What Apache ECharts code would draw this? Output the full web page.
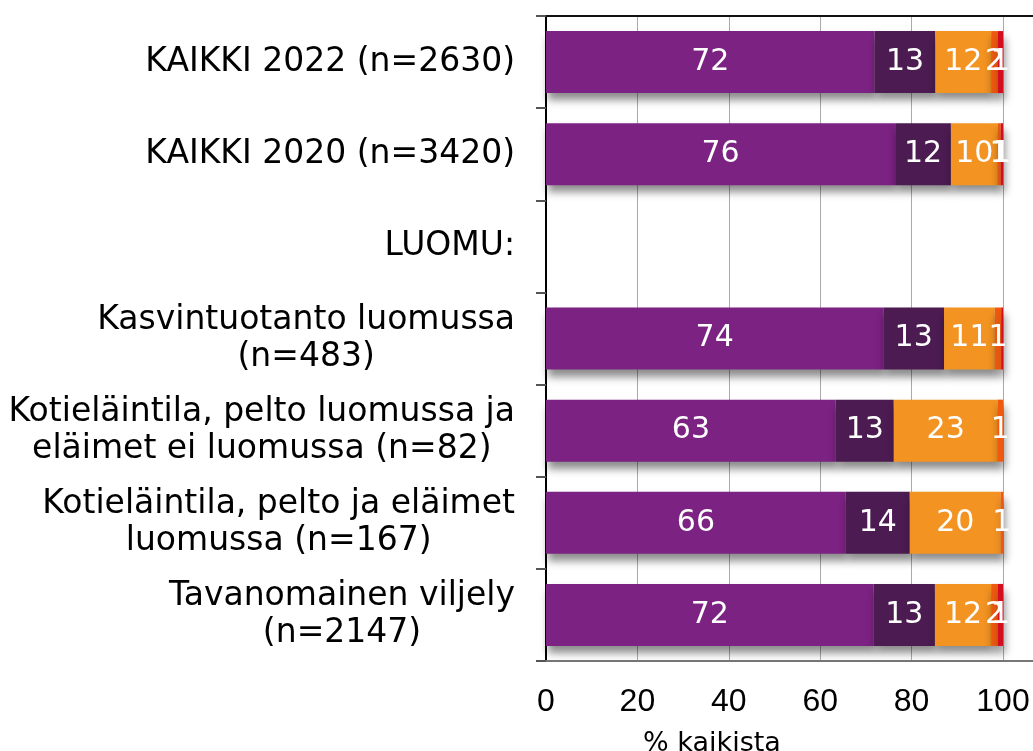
<!DOCTYPE html>
<html>
<head>
<meta charset="utf-8">
<script src="https://cdn.jsdelivr.net/npm/echarts@6/dist/echarts.min.js"></script>
<style>
html,body{margin:0;padding:0;background:#fff;}
#chart{width:1033px;height:751px;}
</style>
</head>
<body>
<div id="chart"></div>
<script>
const categories = [
  'KAIKKI 2022 (n=2630)',
  'KAIKKI 2020 (n=3420)',
  'LUOMU:',
  'Kasvintuotanto luomussa\n(n=483)',
  'Kotieläintila, pelto luomussa ja\neläimet ei luomussa (n=82)',
  'Kotieläintila, pelto ja eläimet\nluomussa (n=167)',
  'Tavanomainen viljely\n(n=2147)'
];
const seriesNames = ['Osuus 1', 'Osuus 2', 'Osuus 3', 'Osuus 4', 'Osuus 5'];
const values1 = [71.9, 76.4, null, 73.8, 63.4, 65.6, 71.7];
const values2 = [13.3, 12.2, null, 13.3, 12.7, 14.0, 13.4];
const values3 = [12.2, 10.2, null, 11.1, 22.7, 19.9, 12.3];
const values4 = [1.5, 0.7, null, 1.4, 1.2, 0.5, 1.5];
const values5 = [1.1, 0.5, null, 0.4, null, null, 1.1];
const xTicks = [0, 20, 40, 60, 80, 100];
const axisTitle = '% kaikista';

const colors = ['#7B2282', '#4B1B52', '#F39322', '#EE5A10', '#D20E1F'];
const allValues = [values1, values2, values3, values4, values5];

const chart = echarts.init(document.getElementById('chart'), null, {renderer: 'canvas'});

const series = allValues.map((vals, i) => ({
  name: seriesNames[i],
  type: 'bar',
  stack: 'total',
  xAxisIndex: 0,
  barWidth: 62,
  data: vals,
  itemStyle: {
    color: colors[i],
    shadowColor: 'rgba(0,0,0,0.45)',
    shadowBlur: 8,
    shadowOffsetY: 7,
    shadowOffsetX: 2
  },
  label: {
    show: true,
    position: 'inside',
    color: '#fff',
    fontFamily: 'DejaVu Sans',
    fontSize: 30,
    formatter: p => {
      if (p.value == null) return '';
      const r = Math.round(p.value);
      return r === 0 ? '' : String(r);
    }
  },
  emphasis: {disabled: true}
}));

const option = {
  animation: false,
  backgroundColor: '#fff',
  title: {
    text: axisTitle,
    left: 707,
    top: 725,
    textAlign: 'center',
    textStyle: {fontFamily: 'DejaVu Sans', fontSize: 27, fontWeight: 'normal', color: '#000'}
  },
  grid: {left: 546, right: 0, top: 16, bottom: 90, containLabel: false},
  xAxis: [{
    type: 'value',
    min: 0,
    max: 106.56,
    interval: 20,
    position: 'bottom',
    axisLine: {show: true, lineStyle: {color: '#777', width: 2}},
    axisTick: {show: false},
    splitLine: {show: true, showMinLine: false, showMaxLine: false, lineStyle: {color: '#aaa', width: 1}},
    axisLabel: {
      showMaxLabel: false,
      margin: 25,
      fontFamily: 'Liberation Sans',
      fontSize: 32,
      color: '#000',
      formatter: v => (xTicks.indexOf(v) >= 0 ? String(v) : '')
    }
  }, {
    type: 'value',
    min: 0,
    max: 106.56,
    interval: 20,
    position: 'top',
    axisLine: {show: true, onZero: false, lineStyle: {color: '#111', width: 2}},
    axisTick: {show: false},
    splitLine: {show: false},
    axisLabel: {show: false}
  }],
  yAxis: {
    type: 'category',
    inverse: true,
    data: categories,
    axisLine: {show: true, lineStyle: {color: '#000', width: 2}},
    axisTick: {show: true, length: 10, lineStyle: {color: '#555', width: 2}},
    axisLabel: {
      margin: 31,
      color: '#000',
      fontFamily: 'DejaVu Sans',
      fontSize: 33,
      lineHeight: 37,
      formatter: v => v.split('\n').map(l => '{c|' + l + '}').join('\n'),
      rich: {
        c: {align: 'center', fontFamily: 'DejaVu Sans', fontSize: 33, lineHeight: 37, color: '#000'}
      }
    }
  },
  series: series
};
chart.setOption(option);
</script>
</body>
</html>
